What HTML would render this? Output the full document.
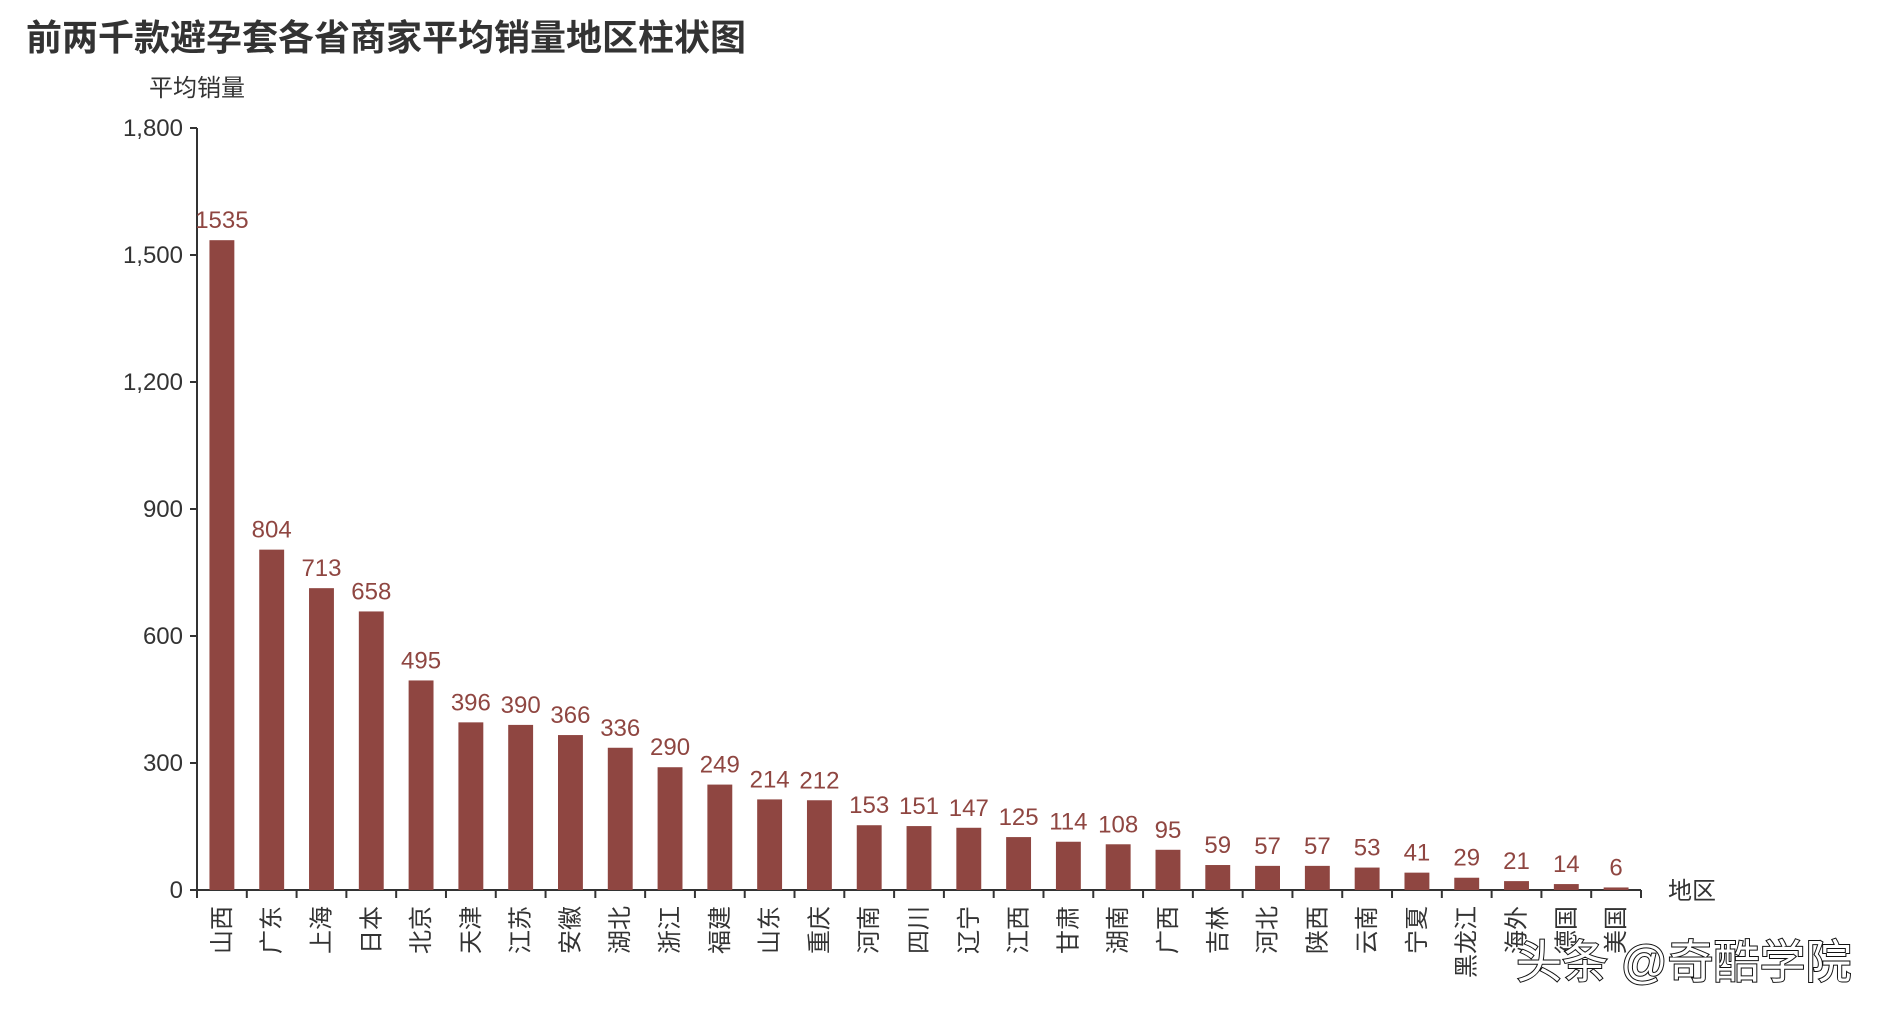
<!DOCTYPE html>
<html><head><meta charset="utf-8">
<style>
html,body{margin:0;padding:0;background:#fff;}
svg{display:block;font-family:"Liberation Sans","Noto Sans CJK SC",sans-serif;}
</style></head>
<body>
<svg id="chart" width="1884" height="1010" viewBox="0 0 1884 1010">
<text x="26" y="50" font-size="36" font-weight="bold" fill="#333">前两千款避孕套各省商家平均销量地区柱状图</text>
<text x="197" y="96" font-size="24" fill="#333" text-anchor="middle">平均销量</text>
<text x="1668" y="899" font-size="24" fill="#333" style="writing-mode:horizontal-tb">地区</text>
<g id="plot"></g>
<text x="1516" y="978" font-size="46" fill="#fff" stroke="#111" stroke-width="2" paint-order="stroke">头条 @奇酷学院</text>
</svg>
<script>
const categories=["山西","广东","上海","日本","北京","天津","江苏","安徽","湖北","浙江","福建","山东","重庆","河南","四川","辽宁","江西","甘肃","湖南","广西","吉林","河北","陕西","云南","宁夏","黑龙江","海外","德国","美国"];
const values=[1535,804,713,658,495,396,390,366,336,290,249,214,212,153,151,147,125,114,108,95,59,57,57,53,41,29,21,14,6];
const yTicks=[0,300,600,900,1200,1500,1800];
const yTickLabels=["0","300","600","900","1,200","1,500","1,800"];

const X0=197,X1=1641,Y0=890,Y1=128,YMAX=1800;
const band=(X1-X0)/categories.length;
const y=v=>Y0-(v/YMAX)*(Y0-Y1);
const x=i=>X0+i*band;
const NS="http://www.w3.org/2000/svg";
const g=document.getElementById('plot');
function mk(t,a){const e=document.createElementNS(NS,t);for(const k in a)e.setAttribute(k,a[k]);g.appendChild(e);return e;}

let ax=mk('line',{x1:X0,y1:Y1,x2:X0,y2:Y0,stroke:'#333','stroke-width':2});


yTicks.forEach((t,i)=>{
  const tk=mk('line',{x1:X0-7,y1:y(t),x2:X0,y2:y(t),stroke:'#333','stroke-width':2});
  
  
  const tl=mk('text',{x:X0-14,y:y(t)+8,'font-size':24,fill:'#333','text-anchor':'end'});
  tl.textContent=yTickLabels[i];
  
  
});
let xa=mk('line',{x1:X0,y1:Y0,x2:X1,y2:Y0,stroke:'#333','stroke-width':2});


for(let i=0;i<=categories.length;i++){
  const tk=mk('line',{x1:x(i),y1:Y0,x2:x(i),y2:Y0+8,stroke:'#333','stroke-width':2});
  
  
}
categories.forEach((c,i)=>{
  const cx=x(i)+band/2;
  const bw=band*0.5;
  const r=mk('rect',{x:cx-bw/2,y:y(values[i]),width:bw,height:Y0-y(values[i]),fill:'#8f4641'});
  
  
  const vl=mk('text',{x:cx,y:y(values[i])-12,'font-size':24,fill:'#8f4641','text-anchor':'middle'});
  vl.textContent=values[i];
  
  
  const cl=mk('text',{x:0,y:8,'font-size':24,fill:'#333','text-anchor':'end',transform:`translate(${cx},${Y0+16}) rotate(-90)`});
  cl.textContent=c;
  
  
});
</script>
</body></html>
